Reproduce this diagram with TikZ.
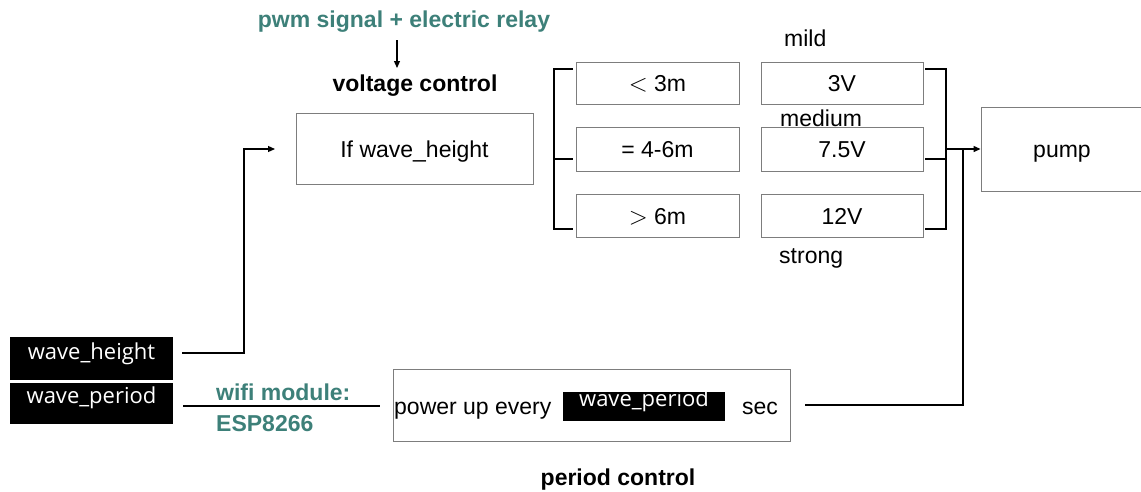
\documentclass[tikz,border=0pt]{standalone}
\usepackage{fontspec}
\setmainfont{Liberation Sans}
\newfontfamily\boxfont{Open Sans}
\usetikzlibrary{arrows.meta}
\definecolor{tealtxt}{RGB}{61,128,121}
\definecolor{boxgray}{RGB}{125,125,125}
\begin{document}
\begin{tikzpicture}[x=1pt,y=-1pt,
  every node/.style={inner sep=0pt, font=\fontsize{23}{27}\selectfont},
  gbox/.style={draw=boxgray, line width=0.9pt, text height=17pt, text depth=0pt},
  blk/.style={fill=black, text=white, minimum width=163, font=\boxfont\fontsize{22}{26}\selectfont},
  ttl/.style={anchor=base, font=\bfseries\fontsize{23}{27}\selectfont},
  teallbl/.style={anchor=base west, text=tealtxt, font=\bfseries\fontsize{23}{27}\selectfont},
  ln/.style={line width=1.2pt},
  arr/.style={line width=1.2pt, -{Triangle[length=7pt,width=6pt]}}]
\useasboundingbox (0,0) rectangle (1141,491);

% top labels
\node[ttl, text=tealtxt] (pwm) at (404,27) {pwm signal + electric relay};
\node[ttl] (vc) at (415,91) {voltage control};
\coordinate (pa) at (397,40);
\coordinate (pb) at (397,68);
\draw[arr] (pa) -- (pb);

% main boxes
\node[gbox, minimum width=237, minimum height=71] (ifb) at (414.5,148.5) {If wave\_height};

\node[gbox, minimum width=163, minimum height=42] (c1) at (657.5,83) {$<$ 3m};
\node[gbox, minimum width=163, minimum height=44] (c2) at (657.5,149) {= 4-6m};
\node[gbox, minimum width=163, minimum height=43] (c3) at (657.5,215.5) {$>$ 6m};

\node[gbox, minimum width=162, minimum height=42] (v1) at (842,83) {3V};
\node[gbox, minimum width=162, minimum height=44] (v2) at (842,149) {7.5V};
\node[gbox, minimum width=162, minimum height=43] (v3) at (842,215.5) {12V};

\node[anchor=base west] (mild) at (784,46) {mild};
\node[anchor=base west] (medium) at (780,126) {medium};
\node[anchor=base west] (strong) at (779,263) {strong};

\node[gbox, minimum width=162, minimum height=84] (pump) at (1062,149) {pump};

% brackets
\coordinate (lt) at (573,69);
\coordinate (lm) at (573,159);
\coordinate (lb) at (573,229);
\coordinate (lv) at (554,159);
\draw[ln] (lt) -| (lv) |- (lb);
\draw[ln] (lv) -- (lm);
\coordinate (rt) at (925,69);
\coordinate (rm) at (925,159);
\coordinate (rb) at (925,229);
\coordinate (rv) at (946,149);
\draw[ln] (rt) -| (rv) |- (rb);
\draw[ln] (rm) -- (rm -| rv);
\draw[arr] (rv) -- (pump.west);

% inputs
\node[blk, text height=22pt, text depth=21pt] (wh) at (91.5,358.5) {wave\_height};
\node[blk, text height=20pt, text depth=21pt] (wp) at (91.5,403.5) {wave\_period};

\coordinate (whs) at (182,353);
\coordinate (whc) at (244,353);
\coordinate (ifin) at (275,149);
\draw[arr] (whs) -- (whc) |- (ifin);

\coordinate (wps) at (183,406);
\coordinate (wpe) at (380,406);
\draw[ln] (wps) -- (wpe);
\node[teallbl] (wifi) at (216,400) {wifi module:};
\node[teallbl] (esp) at (216,431) {ESP8266};

% period control
\node[gbox, minimum width=397, minimum height=72] (pbox) at (591.5,405) {};
\node[anchor=base west] (pue) at (394,414) {power up every};
\node[blk, minimum width=162, text height=14pt, text depth=15pt] (wpi) at (644,406.5) {wave\_period};
\node[anchor=base] (sec) at (760,414) {sec};
\node[ttl] (pc) at (618,485) {period control};

\coordinate (ps) at (805,405);
\coordinate (pcn) at (963,405);
\coordinate (pup) at (963,149);
\draw[ln] (ps) -- (pcn) -- (pup);
\end{tikzpicture}
\end{document}
